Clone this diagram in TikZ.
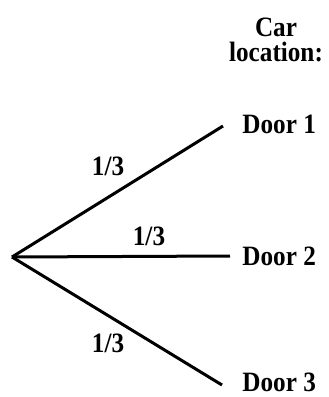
\documentclass[tikz,border=0pt]{standalone}
\usepackage{fontspec}
\setmainfont{Liberation Serif}
\usetikzlibrary{positioning}

\begin{document}
\begin{tikzpicture}[x=0.5pt, y=-0.5pt, every node/.style={font=\bfseries\fontsize{14}{12.5}\selectfont\addfontfeature{FakeStretch=0.9}, inner sep=0pt},
    branch/.style={line width=1.5pt}]
    \useasboundingbox (0,0) rectangle (328,397);

    % Header
    \node[align=center] (head) at (276,40) {Car\\location:};

    % Root and branch ends
    \coordinate (root) at (12,257);
    \coordinate (e1) at (223,126);
    \coordinate (e2) at (230,256);
    \coordinate (e3) at (222,385);

    % Outcomes
    \node[anchor=west] (d1) at (242,124) {Door 1};
    \node[anchor=west] (d2) at (242,256) {Door 2};
    \node[anchor=west] (d3) at (242,382) {Door 3};

    % Branches
    \draw[branch] (root) -- (e1);
    \draw[branch] (root) -- (e2);
    \draw[branch] (root) -- (e3);

    % Probabilities
    \node (p1) at (108,166) {1/3};
    \node (p2) at (149,236) {1/3};
    \node (p3) at (108,343) {1/3};
  \end{tikzpicture}
\end{document}
